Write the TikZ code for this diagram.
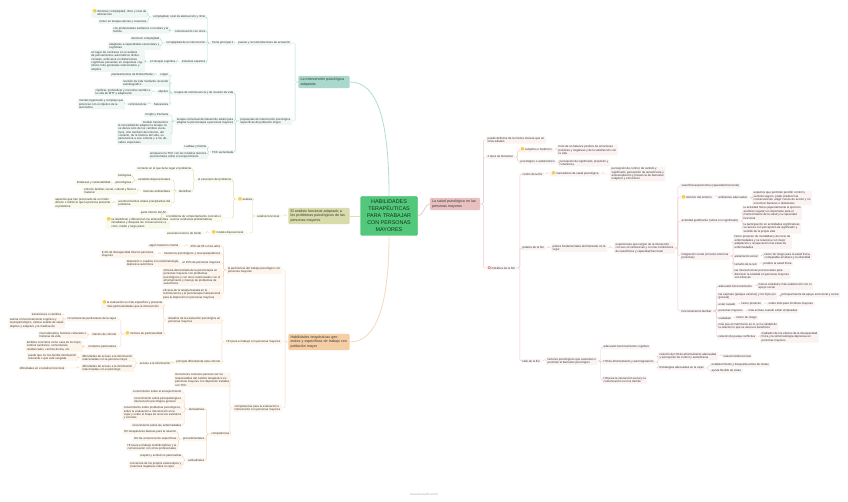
\documentclass[tikz,border=0pt]{standalone}
\usepackage{fontspec}
\setmainfont{Liberation Sans}
\newfontfamily\symfont{DejaVu Sans}
\usepackage{tikz}
\usetikzlibrary{positioning, calc}
\definecolor{ink}{RGB}{55,55,55}
\definecolor{centerfill}{RGB}{82,201,122}
\definecolor{centerdraw}{RGB}{64,184,106}
\definecolor{centertext}{RGB}{20,50,30}
\definecolor{tealmain}{RGB}{168,217,204}
\definecolor{tealline}{RGB}{178,222,210}
\definecolor{tealbg}{RGB}{238,247,244}
\definecolor{olivemain}{RGB}{216,219,170}
\definecolor{oliveline}{RGB}{222,224,182}
\definecolor{olivebg}{RGB}{249,249,236}
\definecolor{orangemain}{RGB}{245,206,164}
\definecolor{orangeline}{RGB}{246,216,186}
\definecolor{orangebg}{RGB}{253,245,236}
\definecolor{pinkmain}{RGB}{232,192,191}
\definecolor{pinkline}{RGB}{236,203,203}
\definecolor{pinkbg}{RGB}{251,242,242}
\definecolor{bulbc}{RGB}{246,207,60}
\definecolor{florc}{RGB}{226,90,90}
\newcommand{\tny}{\fontsize{2.9}{3.4}\selectfont}
\newcommand{\bulb}{\smash{\symfont\fontsize{4.6}{3}\selectfont\textcolor{bulbc}{●}}\,}
\newcommand{\flor}{\smash{\symfont\fontsize{4.2}{3}\selectfont\textcolor{florc}{✿}}\,}
\newcommand{\bl}[1]{\bulb\begin{tabular}[t]{@{}l@{}}#1\end{tabular}}

\begin{document}
\begin{tikzpicture}[
    x=1pt, y=-1pt,
    leaf/.style={rounded corners=0.8pt, inner xsep=1.5pt, inner ysep=0.9pt,
                 font=\tny, text=ink, align=left},
    tl/.style={leaf, fill=tealbg, anchor=east},
    ol/.style={leaf, fill=olivebg, anchor=east},
    hl/.style={leaf, fill=orangebg, anchor=east},
    pl/.style={leaf, fill=pinkbg, anchor=west},
    tw/.style={text width=#1},
    branch/.style={rounded corners=1.2pt, inner sep=2.2pt, text=ink, align=left,
                   font=\fontsize{3.6}{4.3}\selectfont},
    lk/.style={line width=0.45pt, rounded corners=1.5pt}
]
    \useasboundingbox[fill=white] (0,0) rectangle (848,502);

    % centre
    \node[draw=centerdraw, fill=centerfill, rounded corners=1.5pt, minimum width=57pt,
          minimum height=39pt, align=center, text=centertext,
          font=\fontsize{5.4}{7}\selectfont] (C) at (389,216)
          {HABILIDADES\\TERAPÉUTICAS\\PARA TRABAJAR\\CON PERSONAS\\MAYORES};

    \node[branch, fill=tealmain, text width=47pt] (T) at (324,82) {La intervención psicológica adaptada};
    \node[branch, fill=olivemain, text width=57pt] (A) at (319,216) {El análisis funcional adaptado a los problemas psicológicos de las personas mayores};
    \node[branch, fill=orangemain, text width=57pt] (H) at (319,342) {Habilidades terapéuticas generales y específicas de trabajo con población mayor};
    \node[branch, fill=pinkmain, text width=46pt] (S) at (455,204) {La salud psicológica en las personas mayores};

    \draw[tealline, line width=0.8pt] (C.north) .. controls +(0,-75) and +(28,0) .. (T.east);
    \draw[orangeline, line width=0.8pt] (C.south) .. controls +(0,65) and +(28,0) .. (H.east);
    \draw[oliveline, line width=0.8pt] (C.west) -- (A.east);
    \draw[pinkline, line width=0.8pt] (C.east) .. controls +(6,0) and +(-5,0) .. (S.west);

    % la intervencion psicologica adaptada
    \node[tl] (t1) at (292,43) {pautas y recomendaciones de actuación};
    \node[tl] (t2) at (292,121) {propuestas de intervención psicológica\\específicas de población mayor};
    \node[tl] (t11) at (235,43) {Tema principal 1};
    \node[tl] (t111) at (207,17) {complejidad, nivel de abstracción y ritmo};
    \node[tl] (t112) at (207,31) {comunicación con otros};
    \node[tl] (t113) at (207,43) {complejidad de la intervención};
    \node[tl] (t114) at (207,62) {sistemas expertos};
    \node[tl] (t1111) at (148,13.5) {\bl{disminuir complejidad, ritmo y nivel de\\abstracción}};
    \node[tl] (t1112) at (148,22) {incluir en terapia valores y creencias};
    \node[tl] (t1121) at (170,30) {con profesionales sanitarios o sociales y la\\familia};
    \node[tl] (t1131) at (161,39) {disminuir complejidad};
    \node[tl] (t1132) at (161,46) {adaptarse a capacidades sensoriales y\\cognitivas};
    \node[tl] (t1141) at (177,62) {en terapia cognitiva};
    \node[tl, tw=52pt] (t1142) at (145,61) {en lugar de centrarse en el análisis de pensamientos automáticos disfuncionales, enfocarse en distorsiones cognitivas presentes en esquemas cognitivos más generales relacionados y amplios};
    \node[tl] (t21) at (235,93) {terapia de reminiscencia y de revisión de vida};
    \node[tl] (t22) at (235,121) {terapia contextual del desarrollo adulto para\\adaptar la psicoterapia a personas mayores};
    \node[tl] (t23) at (235,152) {TCC aumentada};
    \node[tl] (t211) at (170,75) {origen};
    \node[tl] (t212) at (170,83) {revisión de vida mediante recuerdo\\autobiográfico};
    \node[tl] (t213) at (170,92) {objetivo};
    \node[tl] (t214) at (170,104) {Salvarezza};
    \node[tl] (t2111) at (155,75) {planteamientos de Robert Butler};
    \node[tl] (t2131) at (152,92) {clarificar, profundizar y encontrar sentido a\\la vida de MTT y adaptación};
    \node[tl] (t2141) at (148,104) {reminiscencia};
    \node[tl] (t2142) at (125,104) {mental organizado y complejo que\\potenciar con el objetivo de la\\autonomía};
    \node[tl] (t221) at (170,115) {Knight y Pachana};
    \node[tl] (t222) at (170,122) {modelo transteórico};
    \node[tl, tw=52pt] (t223) at (172,134) {la necesidad de adaptar la terapia no se deriva solo de los cambios evolutivos, sino también del entorno, del contexto, de la historia del vida, su pertenencia a una cohorte y a los desafíos especiales};
    \node[tl] (t231) at (208,147) {Laidlaw y Kishita};
    \node[tl] (t232) at (208,155) {enriquecer la TCC con los modelos teóricos\\psicosociales sobre el envejecimiento};

    \foreach \p/\c in {T/t1, T/t2, t1/t11, t11/t111, t11/t112, t11/t113, t11/t114,
        t111/t1111, t111/t1112, t112/t1121, t113/t1131, t113/t1132, t114/t1141,
        t1141/t1142, t2/t21, t2/t22, t2/t23, t21/t211, t21/t212, t21/t213, t21/t214,
        t211/t2111, t213/t2131, t214/t2141, t2141/t2142, t22/t221, t22/t222,
        t22/t223, t23/t231, t23/t232}
        \draw[lk, tealline] (\p.west) -- ++(-3,0) |- (\c.east);

    % analisis funcional
    \node[ol] (a1) at (281,216) {análisis funcional};
    \node[ol] (a11) at (254,199) {\bulb análisis};
    \node[ol] (a12) at (245,233) {\bulb modelo disposicional};
    \node[ol] (a111) at (233,180) {el escenario del problema};
    \node[ol] (a112) at (223,218) {el problema de comportamiento concreto o\\secuencia conductas problemáticas};
    \node[ol] (a121) at (203,233) {escenario teórico de fondo};
    \node[ol] (a1111) at (193,169) {contexto en el que tiene lugar el problema};
    \node[ol] (a1112) at (193,191) {identificar};
    \node[ol] (a11121) at (172,180) {variables disposicionales};
    \node[ol] (a11122) at (172,191) {factores ambientales};
    \node[ol] (a11123) at (172,203) {acontecimientos vitales precipitantes del\\problema};
    \node[ol] (v1) at (133,176) {biológicas};
    \node[ol] (v2) at (133,183) {psicológicas};
    \node[ol] (v21) at (112,183) {fortalezas y vulnerabilidad};
    \node[ol] (f1) at (138,191) {entorno familiar, social, cultural y físico o\\material};
    \node[ol] (ac1) at (112,203) {aspectos que han provocado de un modo\\directo o indirecto que la persona presente\\el problema};
    \node[ol] (a1121) at (168,213) {parte inferior del AF};
    \node[ol] (a1122) at (170,223) {\bl{se identifican y diferencian los antecedentes\\inmediatos y después las consecuencias a\\corto, medio y largo plazo}};

    \foreach \p/\c in {A/a1, a1/a11, a1/a12, a11/a111, a11/a112, a12/a121,
        a111/a1111, a111/a1112, a1112/a11121, a1112/a11122, a1112/a11123,
        a11121/v1, a11121/v2, v2/v21, a11122/f1, a11123/ac1, a112/a1121, a112/a1122}
        \draw[lk, oliveline] (\p.west) -- ++(-3,0) |- (\c.east);

    % habilidades terapeuticas
    \node[hl] (h1) at (282,270) {la pertinencia del trabajo psicológico con\\personas mayores};
    \node[hl] (h2) at (282,342) {HH para el trabajo con personas mayores};
    \node[hl] (h3) at (282,408) {competencias para la evaluación e\\intervención con personas mayores};
    \node[hl] (h11) at (222,246) {25\% de 65 o más años};
    \node[hl] (h12) at (222,254) {trastornos psicológicos y neuropsiquiátricos};
    \node[hl] (h13) at (222,263) {el 15\% de personas mayores};
    \node[hl] (h14) at (222,277) {eficacia demostrada de la psicoterapia en\\personas mayores con problemas\\psicológicos y con otros relacionados con el\\afrontamiento y manejo de problemas de\\salud física};
    \node[hl] (h15) at (222,294) {eficacia de la terapia basada en la\\reminiscencia y la psicoterapia interpersonal\\para la depresión en personas mayores};
    \node[hl] (h111) at (180,246) {algún trastorno mental};
    \node[hl] (h121) at (155,254) {9,4\% de discapacidad total en personas\\mayores};
    \node[hl] (h131) at (180,263) {depresión o cuadros con sintomatología\\depresiva subclínica};
    \node[hl] (h21) at (222,320) {desafíos de la evaluación psicológica en\\personas mayores};
    \node[hl] (h22) at (222,362) {principal dificultad de esta cohorte};
    \node[hl] (h211) at (164,305) {\bl{la evaluación es más específica y presenta\\más particularidades que la intervención}};
    \node[hl] (h212) at (164,334) {\bulb motivos de particularidad};
    \node[hl] (h2121) at (118,319) {circunstancias particulares de la vejez};
    \node[hl] (h2122) at (118,334) {efectos de cohorte};
    \node[hl] (h2123) at (118,347) {contextos particulares};
    \node[hl] (c1) at (63,314) {transiciones o cambios};
    \node[hl] (c2) at (65,323) {valorar el funcionamiento cognitivo y\\neuropsicológico, valorar estado de salud\\objetivo y subjetivo y la medicación};
    \node[hl] (e1) at (88,335) {nivel educativo, factores culturales o\\historias de vida};
    \node[hl] (k1) at (83,346) {ámbitos concretos como casa de los hijos,\\centros sanitarios, comunitarios,\\residenciales, centros de día, etc.};
    \node[hl] (h221) at (172,363) {acceso a la información};
    \node[hl] (h2211) at (134,358) {dificultades de acceso a la información\\relacionadas con la persona mayor};
    \node[hl] (h2212) at (134,368) {dificultades de acceso a la información\\relacionadas con el psicólogo};
    \node[hl] (p1) at (78,357) {puede que no nos facilite información\\relevante o que esté sesgada};
    \node[hl] (p2) at (66,368) {dificultades en el análisis funcional};
    \node[hl] (h31) at (231,380) {los factores comunes parecen ser los\\responsables del cambio terapéutico en\\personas mayores con depresión tratadas\\con TCC};
    \node[hl] (h32) at (231,434) {competencias};
    \node[hl] (h321) at (206,409) {declarativas};
    \node[hl] (h322) at (206,439) {procedimentales};
    \node[hl] (h323) at (206,460) {actitudinales};
    \node[hl] (d1) at (183,392) {conocimiento sobre el envejecimiento};
    \node[hl] (d2) at (183,400) {conocimiento sobre psicopatología e\\intervención psicológica general};
    \node[hl] (d3) at (183,413) {conocimiento sobre problemas psicológicos,\\sobre la evaluación e intervención en la\\vejez y sobre el mapa de recursos sanitarios\\y sociales};
    \node[hl] (d4) at (183,425) {conocimiento sobre las enfermedades};
    \node[hl] (r1) at (178,432) {HH terapéuticas básicas para la relación};
    \node[hl] (r2) at (178,439) {HH de comunicación específicas};
    \node[hl] (r3) at (178,447) {HH para el trabajo multidisciplinar y la\\comunicación con otros profesionales};
    \node[hl] (q1) at (183,456) {respeto y actitud no paternalista};
    \node[hl] (q2) at (183,465) {conciencia de los propios estereotipos y\\creencias negativas sobre la vejez};

    \foreach \p/\c in {H/h1, H/h2, H/h3, h1/h11, h1/h12, h1/h13, h1/h14, h1/h15,
        h11/h111, h12/h121, h13/h131, h2/h21, h2/h22, h21/h211, h21/h212,
        h212/h2121, h212/h2122, h212/h2123, h2121/c1, h2121/c2, h2122/e1, h2123/k1,
        h22/h221, h221/h2211, h221/h2212, h2211/p1, h2212/p2, h3/h31, h3/h32,
        h32/h321, h32/h322, h32/h323, h321/d1, h321/d2, h321/d3, h321/d4,
        h322/r1, h322/r2, h322/r3, h323/q1, h323/q2}
        \draw[lk, orangeline] (\p.west) -- ++(-3,0) |- (\c.east);

    % salud psicologica
    \node[pl] (s1) at (486,140) {puede definirse de la misma manera que en\\otras edades};
    \node[pl] (s2) at (486,157) {2 tipos de bienestar};
    \node[pl] (s3) at (486,268) {\flor metáfora de la flor};
    \node[pl] (s21) at (519,150) {\bulb subjetivo o hedónico};
    \node[pl] (s22) at (519,162) {psicológico o eudaimónico};
    \node[pl] (s211) at (557,150) {fruto de un balance positivo de emociones\\positivas y negativas y de la satisfacción con\\la vida};
    \node[pl] (s221) at (558,163) {percepción de significado, propósito y\\coherencia};
    \node[pl] (s31) at (521,174) {centro de la flor};
    \node[pl] (s32) at (521,248) {pétalos de la flor};
    \node[pl] (s33) at (521,361) {tallo de la flor};
    \node[pl] (s311) at (550,174) {\bulb marcadores de salud psicológica};
    \node[pl] (s3111) at (610,174) {percepción de control, de sentido y\\significado, percepción de autoeficacia y\\autoaceptación y presencia de bienestar\\subjetivo y emocional};
    \node[pl] (s321) at (551,248) {pilares fundamentales del bienestar en la\\vejez};
    \node[pl] (s3211) at (614,248) {experiencias que surgen de la interacción\\con sus circunstancias y con las condiciones\\de salud física y capacidad funcional};
    \node[pl] (pe1) at (680,186) {salud física/autonomía (capacidad funcional)};
    \node[pl] (pe2) at (680,197) {\bulb dominio del entorno};
    \node[pl] (pe3) at (680,221) {actividad gratificante (rutina con significado)};
    \node[pl] (pe4) at (680,256) {integración social (vínculos entre las\\personas)};
    \node[pl] (pe5) at (680,311) {funcionamiento familiar};
    \node[pl] (pe21) at (717,197) {ambientes adecuados};
    \node[pl] (pe211) at (752,198) {aspectos que permiten percibir control y\\sentirse seguro, poder predecir las\\consecuencias, elegir cursos de acción y no\\encontrar barreras u obstáculos};
    \node[pl] (pe31) at (742,213) {la actividad física (especialmente el ejercicio\\aeróbico regular) es importante para el\\mantenimiento de la salud y la capacidad\\funcional};
    \node[pl] (pe32) at (742,228) {la participación en actividades significativas\\se asocia con percepción de significado y\\sentido de la propia vida};
    \node[pl] (pe41) at (733,242) {factor protector de mortalidad y de inicio de\\enfermedades y se relaciona con mejor\\adaptación y recuperación tras éstas de\\enfermedades};
    \node[pl] (pe42) at (733,256) {aislamiento social};
    \node[pl] (pe43) at (733,264) {tamaño de la red};
    \node[pl] (pe44) at (733,274) {las intervenciones psicosociales para\\disminuir la soledad en personas mayores\\son eficaces};
    \node[pl] (pe421) at (763,256) {factor de riesgo para la salud física,\\comparable al tabaco y la obesidad};
    \node[pl] (pe431) at (762,264) {predice la salud física};
    \node[pl] (pf1) at (717,286) {adecuado funcionamiento};
    \node[pl] (pf2) at (717,296) {las esposas (parejas varones) y los hijos (en\\general)};
    \node[pl] (pf3) at (717,304) {estar casado};
    \node[pl] (pf4) at (717,311) {personas mayores};
    \node[pl] (pf5) at (717,318) {viudedad};
    \node[pl] (pf6) at (717,326) {más que el matrimonio en sí, es la calidad de\\la relación lo que se asocia a beneficios};
    \node[pl] (pf7) at (717,337) {relación de pareja conflictiva};
    \node[pl] (pf11) at (757,286) {menos soledad y más satisfacción con el\\apoyo social};
    \node[pl] (pf21) at (780,295) {principal fuente de apoyo emocional y social};
    \node[pl] (pf31) at (740,304) {factor protector};
    \node[pl] (pf311) at (767,304) {sobre todo para hombres mayores};
    \node[pl] (pf41) at (747,311) {más activas cuando están empleadas};
    \node[pl] (pf51) at (735,318) {factor de riesgo};
    \node[pl] (pf71) at (760,337) {mediador de los efectos de la discapacidad\\física y la sintomatología depresiva en\\personas mayores};
    \node[pl] (s331) at (546,361) {factores psicológicos que sustentan o\\permiten el bienestar psicológico};
    \node[pl] (g1) at (602,347) {adecuado funcionamiento cognitivo};
    \node[pl] (g2) at (602,362) {HH de afrontamiento y autorregulación};
    \node[pl] (g3) at (602,380) {HH para la interacción social y la\\comunicación con los demás};
    \node[pl] (g21) at (658,356) {relación de HH de afrontamiento adecuadas\\y percepción de control y autoeficacia};
    \node[pl] (g22) at (658,368) {Estrategias adecuadas en la vejez};
    \node[pl] (g211) at (722,356) {relación bidireccional};
    \node[pl] (g221) at (710,365) {establecimiento y búsqueda activa de metas};
    \node[pl] (g222) at (710,371) {ajuste flexible de éstas};

    \foreach \p/\c in {S/s1, S/s2, S/s3, s2/s21, s2/s22, s21/s211, s22/s221,
        s3/s31, s3/s32, s3/s33, s31/s311, s311/s3111, s32/s321, s321/s3211,
        s3211/pe1, s3211/pe2, s3211/pe3, s3211/pe4, s3211/pe5, pe2/pe21, pe21/pe211,
        pe3/pe31, pe3/pe32, pe4/pe41, pe4/pe42, pe4/pe43, pe4/pe44, pe42/pe421,
        pe43/pe431, pe5/pf1, pe5/pf2, pe5/pf3, pe5/pf4, pe5/pf5, pe5/pf6, pe5/pf7,
        pf1/pf11, pf2/pf21, pf3/pf31, pf31/pf311, pf4/pf41, pf5/pf51, pf7/pf71,
        s33/s331, s331/g1, s331/g2, s331/g3, g2/g21, g2/g22, g21/g211,
        g22/g221, g22/g222}
        \draw[lk, pinkline] (\p.east) -- ++(3,0) |- (\c.west);

    \node[font=\fontsize{2.8}{3}\selectfont, text=black!35] (wm) at (424,494) {Generated with xmind};
\end{tikzpicture}
\end{document}
